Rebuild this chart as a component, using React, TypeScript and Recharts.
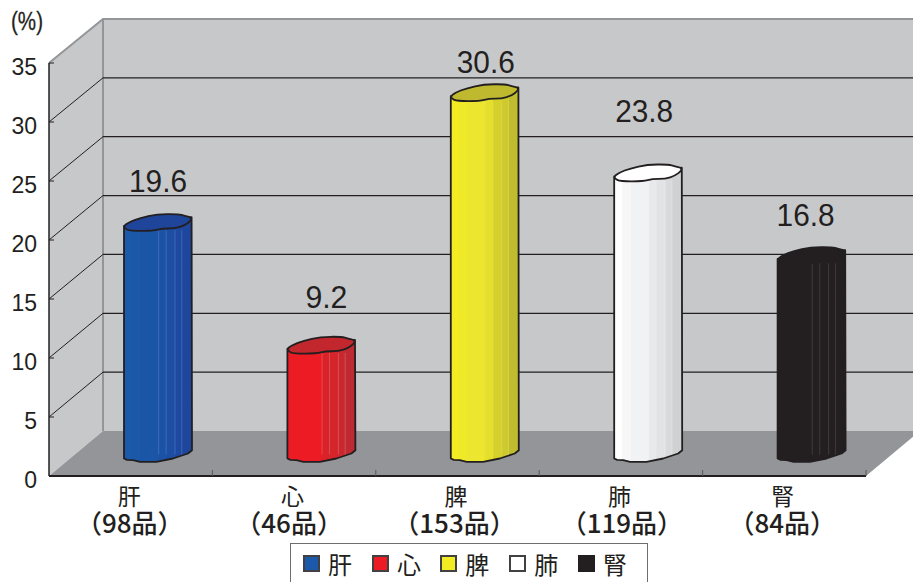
import React from "react";
import {
  BarChart,
  Bar,
  XAxis,
  YAxis,
  CartesianGrid,
  LabelList,
  Legend,
} from "recharts";

const organs = ["肝", "心", "脾", "肺", "腎"];
const itemCounts = [98, 46, 153, 119, 84];
const shares = [19.6, 9.2, 30.6, 23.8, 16.8];
const yTicks = [0, 5, 10, 15, 20, 25, 30, 35];

const chartData = organs.map((organ, i) => ({
  organ,
  count: itemCounts[i],
  share: shares[i],
}));

const INK = "#231f20";
const EDGE = "#939598";
const WALL = "#c7c8ca";
const CJK = '"Noto Sans CJK JP", sans-serif';
const LATIN = '"Liberation Sans", Arial, sans-serif';

// plot box of the front plane, the back wall sits one depth step up and right
const PLOT = { left: 49, top: 63, width: 817, height: 413 };
const DEPTH = { x: 54, y: 45 };
const BAND = PLOT.width / organs.length;
const BACK_SHRINK = 412 / 413;

const swatches = ["#1b5aaa", "#ed1c24", "#f4ec22", "#ffffff", INK];
const capFills = ["#1f459b", "#c1272d", "#bfb92f", "#ffffff", INK];
const stripEdges = [0, 0.12, 0.24, 0.51, 0.62, 0.75, 0.85, 1];
const stripFills = [
  ["#1b5aaa", "#1b58a8", "#1a55a6", "#1b52a5", "#1c4ea3", "#1d4aa0", "#1e469c"],
  ["#ed1c24", "#ed1c24", "#ed1c24", "#d92329", "#d4252b", "#cb272e", "#be2a32"],
  ["#f4ec22", "#f0e928", "#ece62e", "#e5df2c", "#d5d02c", "#cdc92e", "#c0bc30"],
  ["#ffffff", "#f7f7f8", "#f1f2f3", "#e8e9eb", "#e2e3e5", "#d9dadc", "#cfd1d3"],
  [INK, INK, INK, INK, INK, INK, INK],
];
const seamColors = ["#6f93cf", "#e58a8c", "#e6e26a", "#f2f2f2", "#6a6768"];

// value labels float at uneven spots over their caps
const labelLift = [42, 49, 31, 63, 41];
const labelShift = [0, 5, 1, -4, -6];
const countShift = [-1, -5, -3, 1, -2];

// hand-drawn outlines of the cylinder ends, relative to the end's centre
const capOutline: [number, number][] = [
  [-34, 3.7], [-29, 0], [-18, -4.3], [-1.3, -8], [20, -8.3], [27, -6.3], [33, -5],
  [33.4, -2], [27, 3], [17, 6.3], [3.7, 6.3], [-4.7, 8.7], [-28, 8.7], [-33, 6.3],
];
const baseOutline: [number, number][] = [
  [-34, 5], [-31, 6.3], [-25, 6.7], [-18, 8.3], [-1.7, 8.3], [15, 5], [30, 0], [34, -3.3],
];

// rounds the corners of a closed outline with quadratic curves
function smoothLoop(points: [number, number][], cx: number, cy: number) {
  const mid = (a: [number, number], b: [number, number]) =>
    `${cx + (a[0] + b[0]) / 2},${cy + (a[1] + b[1]) / 2}`;
  const last = points[points.length - 1];
  let d = `M${mid(last, points[0])}`;
  points.forEach((p, i) => {
    const next = points[(i + 1) % points.length];
    d += ` Q${cx + p[0]},${cy + p[1]} ${mid(p, next)}`;
  });
  return d + " Z";
}

function Cylinder(props: any) {
  const { x, y, width, height, index } = props;
  // the column stands halfway into the depth of the floor
  const cx = x + width / 2 + DEPTH.x / 2;
  const topY = y - DEPTH.y / 2;
  const baseY = y + height - DEPTH.y / 2;
  const gradientId = `strips-${index}`;
  const fills = stripFills[index];
  const left = cx - 34;

  const baseLine = baseOutline.map(([px, py]) => `${cx + px},${baseY + py}`).join(" L");
  const body = `M${left},${topY + 3.7} L${baseLine} L${cx + 33.6},${topY - 5} Z`;

  return (
    <g>
      <defs>
        <linearGradient id={gradientId} x1="0" x2="1" y1="0" y2="0">
          {fills.map((fill, i) => (
            <React.Fragment key={i}>
              <stop offset={stripEdges[i]} stopColor={fill} />
              <stop offset={stripEdges[i + 1]} stopColor={fill} />
            </React.Fragment>
          ))}
        </linearGradient>
      </defs>
      <path d={body} fill={`url(#${gradientId})`} stroke={INK} strokeWidth={1.8} strokeLinejoin="round" />
      {stripEdges.slice(3, 7).map((edge) => (
        <line
          key={edge}
          x1={left + 68 * edge}
          x2={left + 68 * edge}
          y1={topY + 8}
          y2={baseY + 1}
          stroke={seamColors[index]}
          strokeWidth={0.8}
          strokeOpacity={0.5}
        />
      ))}
      <path
        d={smoothLoop(capOutline, cx, topY)}
        fill={capFills[index]}
        stroke={INK}
        strokeWidth={1.8}
        strokeLinejoin="round"
      />
    </g>
  );
}

function ShareLabel(props: any) {
  const { x, y, width, index, value } = props;
  return (
    <text
      x={x + width / 2 + DEPTH.x / 2 + labelShift[index]}
      y={y - DEPTH.y / 2 - labelLift[index] + 12}
      textAnchor="middle"
      fontFamily={LATIN}
      fontSize={32}
      fill={INK}
      textLength={String(value).length > 3 ? 58 : 42}
      lengthAdjust="spacingAndGlyphs"
    >
      {Number(value).toFixed(1)}
    </text>
  );
}

// side wall, back wall and floor of the box, painted behind the chart's svg
function Walls() {
  const { left, top, width, height } = PLOT;
  const bottom = top + height;
  const right = left + width;
  const backX = left + DEPTH.x;
  const backTop = top - DEPTH.y + 1;
  const backBottom = bottom - DEPTH.y;
  return (
    <svg width={920} height={582} style={{ position: "absolute", left: 0, top: 0 }}>
      <rect x={backX} y={backTop} width={width} height={backBottom - backTop} fill={WALL} />
      <polygon
        points={`${left},${top} ${backX},${backTop} ${backX},${backBottom} ${left},${bottom}`}
        fill={WALL}
      />
      <polygon
        points={`${left},${bottom} ${backX},${backBottom} ${right + DEPTH.x},${backBottom} ${right},${bottom}`}
        fill={EDGE}
      />
      <polyline
        points={`${left},${top} ${backX},${backTop} ${right + DEPTH.x},${backTop}`}
        fill="none"
        stroke={EDGE}
        strokeWidth={2}
      />
      <line x1={backX} x2={backX} y1={backTop} y2={backBottom} stroke={EDGE} strokeWidth={2} />
      <text x={27} y={30} textAnchor="middle" fontFamily={LATIN} fontSize={26} fill={INK} stroke={INK} strokeWidth={0.3} textLength={32} lengthAdjust="spacingAndGlyphs">
        (%)
      </text>
    </svg>
  );
}

// each grid line runs up the side wall and then across the back wall
function DepthGridLine(props: any) {
  const { x1, y1, x2 } = props;
  const bottom = PLOT.top + PLOT.height;
  if (y1 >= bottom - 1 || y1 <= PLOT.top + 1) return <g />;
  const backY = bottom - DEPTH.y - (bottom - y1) * BACK_SHRINK;
  return (
    <g>
      <line x1={x1} y1={y1} x2={x1 + DEPTH.x} y2={backY} stroke={INK} strokeWidth={1} />
      <line x1={x1 + DEPTH.x} y1={backY} x2={x2 + DEPTH.x} y2={backY} stroke={INK} strokeWidth={1.2} />
    </g>
  );
}

function ValueTick(props: any) {
  const { y, payload } = props;
  return (
    <g>
      <line x1={PLOT.left} x2={PLOT.left + 5} y1={y} y2={y} stroke={INK} strokeWidth={1} />
      <text x={37} y={y + 12} textAnchor="end" fontFamily={LATIN} fontSize={23} fill={INK}>
        {payload.value}
      </text>
    </g>
  );
}

function OrganTick(props: any) {
  const { x, index, payload } = props;
  const tickX = x + BAND / 2;
  const axisY = PLOT.top + PLOT.height;
  return (
    <g>
      <line x1={tickX} x2={tickX} y1={axisY} y2={axisY - 6} stroke="#58595b" strokeWidth={1} />
      <text textAnchor="middle" fontFamily={CJK} fill={INK}>
        <tspan x={x - 1.5} y={axisY + 29} fontSize={23}>
          {payload.value}
        </tspan>
        <tspan x={x + countShift[index]} y={axisY + 57} fontSize={26} fontWeight={500}>
          {`（${itemCounts[index]}品）`}
        </tspan>
      </text>
    </g>
  );
}

function OrganLegend() {
  return (
    <div
      style={{
        boxSizing: "border-box",
        width: 358,
        height: 44,
        border: "1px solid #6d6e71",
        background: "#fff",
        display: "flex",
        alignItems: "center",
        paddingLeft: 12,
        paddingBottom: 3,
      }}
    >
      {organs.map((organ, i) => (
        <span key={organ} style={{ display: "flex", alignItems: "center", width: i === 1 ? 72 : 72.5 }}>
          <span
            style={{
              boxSizing: "border-box",
              width: 17,
              height: 17,
              background: swatches[i],
              border: `2px solid ${i === 4 ? INK : "#414042"}`,
              marginRight: 8,
            }}
          />
          <span style={{ fontFamily: CJK, fontSize: 24, lineHeight: "28px", color: INK }}>{organ}</span>
        </span>
      ))}
    </div>
  );
}

export default function App() {
  return (
    <div style={{ position: "absolute", left: 0, top: 0, width: 913, height: 582, overflow: "hidden", background: "#fff" }}>
      <Walls />
      <BarChart
        width={920}
        height={582}
        data={chartData}
        margin={{ top: PLOT.top, right: 920 - PLOT.left - PLOT.width, bottom: 0, left: 0 }}
        barCategoryGap={0}
      >
        <CartesianGrid vertical={false} horizontal={(p: any) => <DepthGridLine {...p} />} stroke={INK} />
        <XAxis
          dataKey="organ"
          interval={0}
          axisLine={{ stroke: INK, strokeWidth: 2 }}
          tickLine={false}
          tick={(p: any) => <OrganTick {...p} />}
          height={582 - PLOT.top - PLOT.height}
        />
        <YAxis
          domain={[0, 35]}
          ticks={yTicks}
          width={PLOT.left}
          interval={0}
          axisLine={{ stroke: INK, strokeWidth: 1.5 }}
          tickLine={false}
          tick={(p: any) => <ValueTick {...p} />}
        />
        <Bar dataKey="share" barSize={68} shape={(p: any) => <Cylinder {...p} />} isAnimationActive={false}>
          <LabelList dataKey="share" content={(p: any) => <ShareLabel {...p} />} />
        </Bar>
        <Legend
          layout="horizontal"
          align="center"
          verticalAlign="middle"
          content={() => <OrganLegend />}
          wrapperStyle={{ position: "absolute", left: 290, top: 543, width: 358, height: 44 }}
        />
      </BarChart>
    </div>
  );
}
